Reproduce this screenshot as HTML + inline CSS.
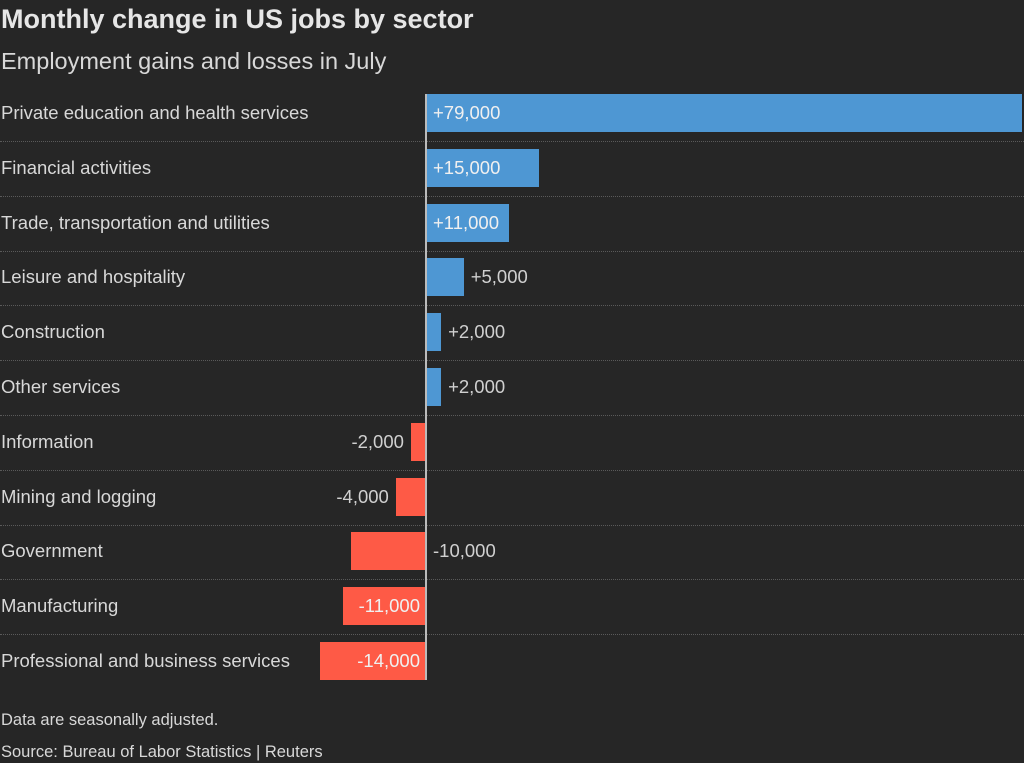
<!DOCTYPE html><html><head><style>
body{margin:0;width:1024px;height:763px;background:#262626;font-family:"Liberation Sans",sans-serif;color:#d8d8d8;overflow:hidden;position:relative}
.t{position:absolute;white-space:nowrap}
.bar{position:absolute;height:38px}
.line{position:absolute;left:0;width:1024px;border-top:1px dotted #5a5a5a}
</style></head><body>
<div class="t" style="left:1px;top:4px;font-size:27px;font-weight:bold;color:#e6e6e6">Monthly change in US jobs by sector</div>
<div class="t" style="left:1px;top:48px;font-size:23.5px;color:#d8d8d8">Employment gains and losses in July</div>
<div id="c"></div>
<div style="position:absolute;left:425px;top:94px;width:2px;height:586px;background:#bbb"></div>
<div class="t" style="left:1px;top:711px;font-size:16.5px">Data are seasonally adjusted.</div>
<div class="t" style="left:1px;top:743px;font-size:16.5px">Source: Bureau of Labor Statistics | Reuters</div>
<script>
var d=[["Private education and health services",79000,"in"],["Financial activities",15000,"in"],["Trade, transportation and utilities",11000,"in"],["Leisure and hospitality",5000,"out"],["Construction",2000,"out"],["Other services",2000,"out"],["Information",-2000,"out"],["Mining and logging",-4000,"out"],["Government",-10000,"right"],["Manufacturing",-11000,"in"],["Professional and business services",-14000,"in"]];
var h="",k=7.54;
d.forEach(function(r,i){var top=94+i*54.8,w=Math.abs(r[1])/1000*k,pos=r[1]>0;
var x=pos?426:426-w;
h+='<div class="bar" style="left:'+x+'px;top:'+top+'px;width:'+w+'px;background:'+(pos?'#4e97d3':'#fe5a46')+'"></div>';
h+='<div class="t" style="left:1px;top:'+(top+8)+'px;font-size:18.5px">'+r[0]+'</div>';
var s=(pos?'+':'-')+Math.abs(r[1]).toLocaleString('en-US');var st;
if(pos){st=r[2]=="in"?'left:433px':'left:'+(426+w+7)+'px';}
else{if(r[2]=="in")st='right:'+(1024-420)+'px';else if(r[2]=="right")st='left:433px';else st='right:'+(1024-(426-w-7))+'px';}
h+='<div class="t" style="'+st+';top:'+(top+8)+'px;font-size:18.5px;color:'+(r[2]=="in"?'#f0f0f0':'#d0d0d0')+'">'+s+'</div>';
if(i<10)h+='<div class="line" style="top:'+(141+i*54.8)+'px"></div>';});
document.getElementById("c").innerHTML=h;
</script>
</body></html>
